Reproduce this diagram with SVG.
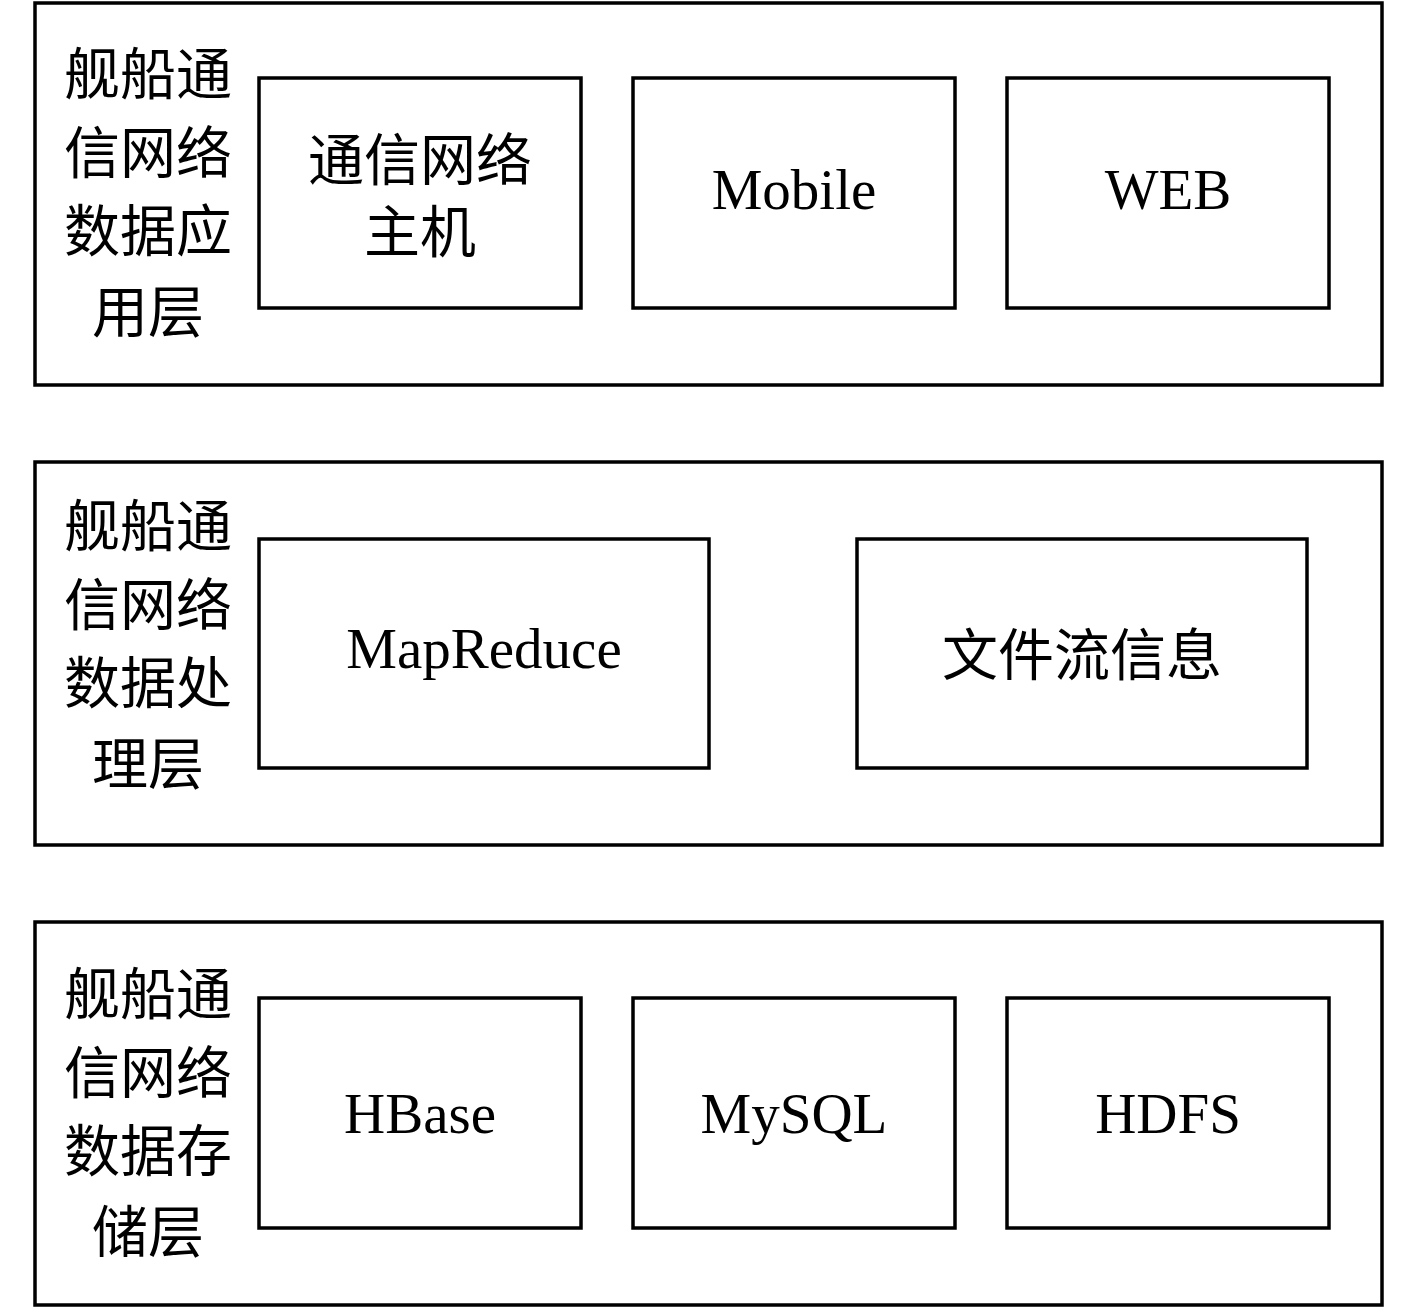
<svg xmlns="http://www.w3.org/2000/svg" width="1417" height="1309" viewBox="0 0 1417 1309">
<style>
.box{fill:#fff;stroke:#000;stroke-width:3.5}
.zh{font-family:"Noto Sans CJK SC","Liberation Serif",sans-serif;font-size:56px;fill:#000;text-anchor:middle}
.en{font-family:"Liberation Serif",serif;font-size:57px;fill:#000;text-anchor:middle}
</style>
<rect width="1417" height="1309" fill="#fff"/>
<g id="layer-app">
<rect class="box" x="35" y="3" width="1347" height="382"/>
<text class="zh" x="148" y="94">舰船通</text>
<text class="zh" x="148" y="173">信网络</text>
<text class="zh" x="148" y="251">数据应</text>
<text class="zh" x="148" y="332">用层</text>
</g>
<g id="node-host">
<rect class="box" x="259" y="78" width="322" height="230"/>
<text class="zh" x="420" y="180">通信网络<tspan x="420" dy="72">主机</tspan></text>
</g>
<g id="node-mobile">
<rect class="box" x="633" y="78" width="322" height="230"/>
<text class="en" x="794" y="209">Mobile</text>
</g>
<g id="node-web">
<rect class="box" x="1007" y="78" width="322" height="230"/>
<text class="en" x="1168" y="209">WEB</text>
</g>
<g id="layer-proc">
<rect class="box" x="35" y="462" width="1347" height="383"/>
<text class="zh" x="148" y="546">舰船通</text>
<text class="zh" x="148" y="625">信网络</text>
<text class="zh" x="148" y="703">数据处</text>
<text class="zh" x="148" y="784">理层</text>
</g>
<g id="node-mapreduce">
<rect class="box" x="259" y="539" width="450" height="229"/>
<text class="en" x="484" y="668">MapReduce</text>
</g>
<g id="node-filestream">
<rect class="box" x="857" y="539" width="450" height="229"/>
<text class="zh" x="1082" y="675">文件流信息</text>
</g>
<g id="layer-store">
<rect class="box" x="35" y="922" width="1347" height="383"/>
<text class="zh" x="148" y="1014">舰船通</text>
<text class="zh" x="148" y="1093">信网络</text>
<text class="zh" x="148" y="1171">数据存</text>
<text class="zh" x="148" y="1252">储层</text>
</g>
<g id="node-hbase">
<rect class="box" x="259" y="998" width="322" height="230"/>
<text class="en" x="420" y="1133">HBase</text>
</g>
<g id="node-mysql">
<rect class="box" x="633" y="998" width="322" height="230"/>
<text class="en" x="794" y="1133">MySQL</text>
</g>
<g id="node-hdfs">
<rect class="box" x="1007" y="998" width="322" height="230"/>
<text class="en" x="1168" y="1133">HDFS</text>
</g>
<g id="connectors"/>
</svg>
